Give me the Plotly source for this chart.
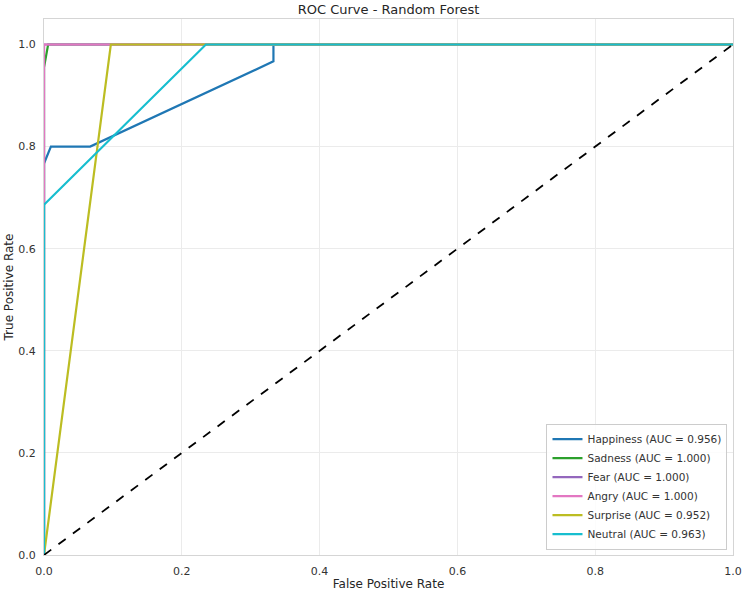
import plotly.graph_objects as go

names = ["Happiness", "Sadness", "Fear", "Angry", "Surprise", "Neutral"]
aucs = [0.956, 1.000, 1.000, 1.000, 0.952, 0.963]
colors = ["#1f77b4", "#2ca02c", "#9467bd", "#e377c2", "#bcbd22", "#17becf"]

fpr_happiness = [0.0, 0.0, 0.01, 0.067, 0.333, 0.333, 1.0]
tpr_happiness = [0.0, 0.767, 0.8, 0.8, 0.967, 1.0, 1.0]
fpr_sadness = [0.0, 0.0, 0.006, 1.0]
tpr_sadness = [0.0, 0.955, 1.0, 1.0]
fpr_fear = [0.0, 0.0, 1.0]
tpr_fear = [0.0, 1.0, 1.0]
fpr_angry = [0.0, 0.0, 1.0]
tpr_angry = [0.0, 1.0, 1.0]
fpr_surprise = [0.0, 0.097, 1.0]
tpr_surprise = [0.0, 1.0, 1.0]
fpr_neutral = [0.0, 0.0, 0.235, 1.0]
tpr_neutral = [0.0, 0.686, 1.0, 1.0]

fprs = [fpr_happiness, fpr_sadness, fpr_fear, fpr_angry, fpr_surprise, fpr_neutral]
tprs = [tpr_happiness, tpr_sadness, tpr_fear, tpr_angry, tpr_surprise, tpr_neutral]

fig = go.Figure()
for n, a, c, fx, ty in zip(names, aucs, colors, fprs, tprs):
    fig.add_trace(go.Scatter(x=fx, y=ty, mode="lines", name=f"{n} (AUC = {a:.3f})",
                             line=dict(color=c, width=2.2)))
fig.add_trace(go.Scatter(x=[0, 1], y=[0, 1], mode="lines", showlegend=False,
                         line=dict(color="black", width=1.8, dash="dash")))

font = "DejaVu Sans, sans-serif"
fig.update_layout(
    width=744, height=591,
    margin=dict(l=44, r=11, t=19, b=36),
    paper_bgcolor="white", plot_bgcolor="white",
    font=dict(family=font, size=11, color="#333333"),
    title=dict(text="ROC Curve - Random Forest", xref="paper", x=0.5, xanchor="center",
               y=0.992, yanchor="top", font=dict(size=13, color="#262626")),
    legend=dict(x=0.992, xanchor="right", y=0.01, yanchor="bottom",
                bgcolor="rgba(255,255,255,0.85)", bordercolor="#cccccc", borderwidth=1,
                font=dict(size=10.5, color="#333333"), tracegroupgap=0, itemwidth=30),
    showlegend=True,
)
fig.update_xaxes(range=[0, 1], tickvals=[0, 0.2, 0.4, 0.6, 0.8, 1.0],
                 ticktext=["0.0", "0.2", "0.4", "0.6", "0.8", "1.0"],
                 showgrid=True, gridcolor="#ebebeb", gridwidth=1, zeroline=False,
                 showline=True, linecolor="#d5d5d5", linewidth=1, mirror=True,
                 ticks="", ticklabelstandoff=6, automargin=False,
                 title=dict(text="False Positive Rate", font=dict(size=12, color="#262626"), standoff=2))
fig.update_yaxes(range=[0, 1.05], tickvals=[0, 0.2, 0.4, 0.6, 0.8, 1.0],
                 ticktext=["0.0", "0.2", "0.4", "0.6", "0.8", "1.0"],
                 showgrid=True, gridcolor="#ebebeb", gridwidth=1, zeroline=False,
                 showline=True, linecolor="#d5d5d5", linewidth=1, mirror=True,
                 ticks="", ticklabelstandoff=5, automargin=False,
                 title=dict(text="True Positive Rate", font=dict(size=12, color="#262626"), standoff=2))

fig.write_html("out.html")
